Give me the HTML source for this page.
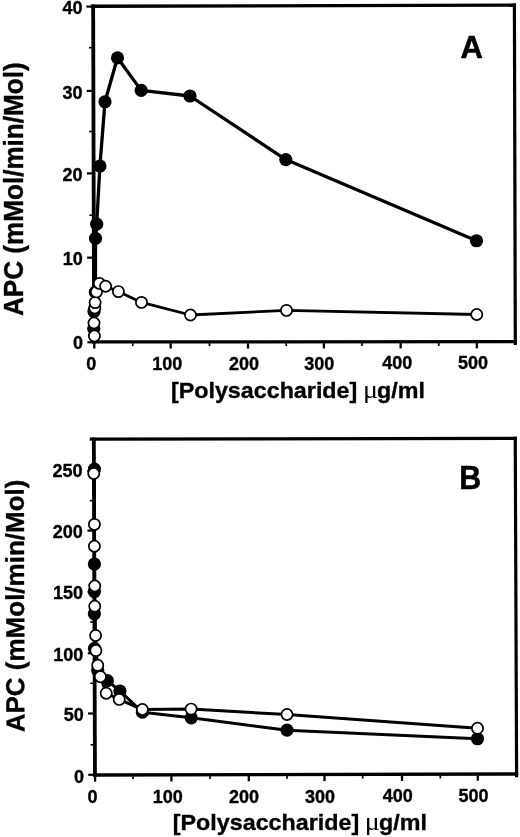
<!DOCTYPE html>
<html lang="en"><head><meta charset="utf-8"><title>APC vs polysaccharide concentration</title>
<style>html,body{margin:0;padding:0;background:#fff;}body{width:520px;height:837px;overflow:hidden;}svg{display:block;}text{font-family:"Liberation Sans", Arial, Helvetica, sans-serif;font-weight:700;fill:#000;stroke:#000;stroke-width:0.35px;}.mu{font-family:"Liberation Serif","DejaVu Serif",serif;font-weight:400;stroke:none;}</style></head><body>
<svg width="520" height="837" viewBox="0 0 520 837">
<rect x="0" y="0" width="520" height="837" fill="#fff"/>
<g fill="#000">
<polygon points="91.25,4.61 92.20,343.56 96.00,343.54 95.05,4.59"/>
<polygon points="512.80,3.55 513.71,344.95 516.91,344.95 516.00,3.55"/>
<polygon points="91.25,7.90 516.00,6.85 516.00,3.55 91.25,4.60"/>
<polygon points="92.20,343.55 516.90,343.35 516.90,340.05 92.20,340.25"/>
<rect x="86.45" y="5.50" width="5.20" height="2.20"/>
<rect x="86.69" y="89.80" width="5.20" height="2.20"/>
<rect x="86.92" y="172.30" width="5.20" height="2.20"/>
<rect x="87.16" y="256.55" width="5.20" height="2.20"/>
<rect x="87.40" y="341.20" width="5.20" height="2.20"/>
<rect x="88.97" y="46.90" width="2.80" height="1.60"/>
<rect x="89.20" y="130.70" width="2.80" height="1.60"/>
<rect x="89.44" y="214.40" width="2.80" height="1.60"/>
<rect x="89.68" y="299.20" width="2.80" height="1.60"/>
<rect x="93.15" y="343.25" width="2.30" height="5.30"/>
<rect x="169.50" y="343.21" width="2.30" height="5.30"/>
<rect x="246.85" y="343.18" width="2.30" height="5.30"/>
<rect x="322.75" y="343.14" width="2.30" height="5.30"/>
<rect x="399.50" y="343.10" width="2.30" height="5.30"/>
<rect x="475.65" y="343.07" width="2.30" height="5.30"/>
<rect x="131.90" y="343.23" width="1.70" height="2.90"/>
<rect x="208.65" y="343.20" width="1.70" height="2.90"/>
<rect x="285.40" y="343.16" width="1.70" height="2.90"/>
<rect x="361.15" y="343.12" width="1.70" height="2.90"/>
<rect x="437.90" y="343.09" width="1.70" height="2.90"/>
</g>
<polyline points="476.50,240.75 285.80,159.60 190.00,96.00 141.20,90.40 117.50,57.80 105.00,101.75 99.90,166.00 96.70,224.20 95.50,238.40 95.40,292.20 94.00,311.50 93.75,328.60" fill="none" stroke="#000" stroke-width="3.3" stroke-linejoin="round"/>
<polyline points="476.75,314.50 286.50,310.40 190.50,315.00 141.50,302.40 118.40,291.60 105.60,286.25 99.40,283.40 96.50,291.90 95.10,302.60 94.75,308.00 94.00,323.00 94.40,336.00" fill="none" stroke="#000" stroke-width="2.8" stroke-linejoin="round"/>
<circle cx="476.50" cy="240.75" r="6.6" fill="#000"/>
<circle cx="285.80" cy="159.60" r="6.6" fill="#000"/>
<circle cx="190.00" cy="96.00" r="6.6" fill="#000"/>
<circle cx="141.20" cy="90.40" r="6.6" fill="#000"/>
<circle cx="117.50" cy="57.80" r="6.6" fill="#000"/>
<circle cx="105.00" cy="101.75" r="6.6" fill="#000"/>
<circle cx="99.90" cy="166.00" r="6.6" fill="#000"/>
<circle cx="96.70" cy="224.20" r="6.6" fill="#000"/>
<circle cx="95.50" cy="238.40" r="6.6" fill="#000"/>
<circle cx="95.40" cy="292.20" r="6.6" fill="#000"/>
<circle cx="94.00" cy="311.50" r="6.6" fill="#000"/>
<circle cx="93.75" cy="328.60" r="6.6" fill="#000"/>
<circle cx="94.40" cy="336.00" r="5.6" fill="#fff" stroke="#000" stroke-width="1.7"/>
<circle cx="94.00" cy="323.00" r="5.6" fill="#fff" stroke="#000" stroke-width="1.7"/>
<circle cx="94.75" cy="308.00" r="5.6" fill="#fff" stroke="#000" stroke-width="1.7"/>
<circle cx="95.10" cy="302.60" r="5.6" fill="#fff" stroke="#000" stroke-width="1.7"/>
<circle cx="96.50" cy="291.90" r="5.6" fill="#fff" stroke="#000" stroke-width="1.7"/>
<circle cx="99.40" cy="283.40" r="5.6" fill="#fff" stroke="#000" stroke-width="1.7"/>
<circle cx="105.60" cy="286.25" r="5.6" fill="#fff" stroke="#000" stroke-width="1.7"/>
<circle cx="118.40" cy="291.60" r="5.6" fill="#fff" stroke="#000" stroke-width="1.7"/>
<circle cx="141.50" cy="302.40" r="5.6" fill="#fff" stroke="#000" stroke-width="1.7"/>
<circle cx="190.50" cy="315.00" r="5.6" fill="#fff" stroke="#000" stroke-width="1.7"/>
<circle cx="286.50" cy="310.40" r="5.6" fill="#fff" stroke="#000" stroke-width="1.7"/>
<circle cx="476.75" cy="314.50" r="5.6" fill="#fff" stroke="#000" stroke-width="1.7"/>
<text x="82.60" y="13.80" font-size="18" text-anchor="end">40</text>
<text x="82.60" y="98.60" font-size="18" text-anchor="end">30</text>
<text x="82.60" y="180.70" font-size="18" text-anchor="end">20</text>
<text x="82.85" y="264.80" font-size="18" text-anchor="end">10</text>
<text x="83.05" y="349.30" font-size="18" text-anchor="end">0</text>
<text x="91.30" y="370.20" font-size="18" text-anchor="middle">0</text>
<text x="167.35" y="369.90" font-size="18" text-anchor="middle">100</text>
<text x="243.90" y="369.90" font-size="18" text-anchor="middle">200</text>
<text x="319.30" y="369.70" font-size="18" text-anchor="middle">300</text>
<text x="397.20" y="369.20" font-size="18" text-anchor="middle">400</text>
<text x="473.00" y="369.30" font-size="18" text-anchor="middle">500</text>
<text x="471.7" y="58.1" font-size="31" text-anchor="middle" style="stroke-width:0.55px">A</text>
<text transform="translate(22.9,316.0) rotate(-90) scale(1,1.03)" font-size="26.1">APC (mMol/min/Mol)</text>
<g class="big" transform="translate(0.00,398.4) scale(1,0.96)">
<text x="170.9" y="0" font-size="23.299999999999997">[Polysaccharide]</text>
<text class="mu" transform="translate(362.9,0) scale(1.06,1)" font-size="26.5">μ</text>
<text x="425.0" y="0" font-size="23.299999999999997" text-anchor="end">g/ml</text>
</g>
<g fill="#000">
<polygon points="91.94,437.41 93.06,776.66 96.86,776.64 95.74,437.39"/>
<polygon points="513.64,436.71 515.01,777.26 518.21,777.24 516.84,436.69"/>
<polygon points="89.75,440.71 516.85,440.00 516.85,436.70 89.75,437.41"/>
<polygon points="93.05,776.65 518.20,775.65 518.20,772.35 93.05,773.35"/>
<rect x="87.25" y="469.90" width="5.20" height="2.20"/>
<rect x="87.45" y="529.50" width="5.20" height="2.20"/>
<rect x="87.65" y="590.90" width="5.20" height="2.20"/>
<rect x="87.85" y="652.20" width="5.20" height="2.20"/>
<rect x="88.05" y="712.40" width="5.20" height="2.20"/>
<rect x="88.25" y="773.70" width="5.20" height="2.20"/>
<rect x="89.75" y="499.80" width="2.80" height="1.60"/>
<rect x="89.95" y="560.70" width="2.80" height="1.60"/>
<rect x="90.15" y="621.20" width="2.80" height="1.60"/>
<rect x="90.35" y="682.50" width="2.80" height="1.60"/>
<rect x="90.55" y="744.00" width="2.80" height="1.60"/>
<rect x="93.95" y="776.35" width="2.30" height="5.30"/>
<rect x="170.25" y="776.17" width="2.30" height="5.30"/>
<rect x="247.65" y="775.99" width="2.30" height="5.30"/>
<rect x="323.35" y="775.81" width="2.30" height="5.30"/>
<rect x="400.85" y="775.62" width="2.30" height="5.30"/>
<rect x="476.65" y="775.44" width="2.30" height="5.30"/>
<rect x="132.15" y="776.26" width="1.70" height="2.90"/>
<rect x="209.15" y="776.08" width="1.70" height="2.90"/>
<rect x="286.15" y="775.89" width="1.70" height="2.90"/>
<rect x="361.85" y="775.71" width="1.70" height="2.90"/>
<rect x="439.45" y="775.53" width="1.70" height="2.90"/>
</g>
<polyline points="477.50,738.75 287.00,730.20 191.25,717.80 142.40,712.20 119.90,691.00 107.40,680.70 97.70,670.30 94.50,648.50 94.40,613.75 94.40,591.50 94.40,564.00 94.40,469.10" fill="none" stroke="#000" stroke-width="3.0" stroke-linejoin="round"/>
<polyline points="477.50,728.30 287.00,714.50 191.10,709.10 142.40,709.50 119.20,699.40 106.20,693.20 100.40,676.70 97.70,665.30 95.90,650.60 95.60,635.50 94.75,606.25 94.75,586.00 94.40,546.25 94.40,524.40 93.75,473.50" fill="none" stroke="#000" stroke-width="3.0" stroke-linejoin="round"/>
<circle cx="477.50" cy="738.75" r="6.6" fill="#000"/>
<circle cx="287.00" cy="730.20" r="6.6" fill="#000"/>
<circle cx="191.25" cy="717.80" r="6.6" fill="#000"/>
<circle cx="142.40" cy="712.20" r="6.6" fill="#000"/>
<circle cx="119.90" cy="691.00" r="6.6" fill="#000"/>
<circle cx="107.40" cy="680.70" r="6.6" fill="#000"/>
<circle cx="97.70" cy="670.30" r="6.6" fill="#000"/>
<circle cx="94.50" cy="648.50" r="6.6" fill="#000"/>
<circle cx="94.40" cy="613.75" r="6.6" fill="#000"/>
<circle cx="94.40" cy="591.50" r="6.6" fill="#000"/>
<circle cx="94.40" cy="564.00" r="6.6" fill="#000"/>
<circle cx="94.40" cy="469.10" r="6.6" fill="#000"/>
<circle cx="93.75" cy="473.50" r="5.6" fill="#fff" stroke="#000" stroke-width="1.7"/>
<circle cx="94.40" cy="524.40" r="5.6" fill="#fff" stroke="#000" stroke-width="1.7"/>
<circle cx="94.40" cy="546.25" r="5.6" fill="#fff" stroke="#000" stroke-width="1.7"/>
<circle cx="94.75" cy="586.00" r="5.6" fill="#fff" stroke="#000" stroke-width="1.7"/>
<circle cx="94.75" cy="606.25" r="5.6" fill="#fff" stroke="#000" stroke-width="1.7"/>
<circle cx="95.60" cy="635.50" r="5.6" fill="#fff" stroke="#000" stroke-width="1.7"/>
<circle cx="95.90" cy="650.60" r="5.6" fill="#fff" stroke="#000" stroke-width="1.7"/>
<circle cx="97.70" cy="665.30" r="5.6" fill="#fff" stroke="#000" stroke-width="1.7"/>
<circle cx="100.40" cy="676.70" r="5.6" fill="#fff" stroke="#000" stroke-width="1.7"/>
<circle cx="106.20" cy="693.20" r="5.6" fill="#fff" stroke="#000" stroke-width="1.7"/>
<circle cx="119.20" cy="699.40" r="5.6" fill="#fff" stroke="#000" stroke-width="1.7"/>
<circle cx="142.40" cy="709.50" r="5.6" fill="#fff" stroke="#000" stroke-width="1.7"/>
<circle cx="191.10" cy="709.10" r="5.6" fill="#fff" stroke="#000" stroke-width="1.7"/>
<circle cx="287.00" cy="714.50" r="5.6" fill="#fff" stroke="#000" stroke-width="1.7"/>
<circle cx="477.50" cy="728.30" r="5.6" fill="#fff" stroke="#000" stroke-width="1.7"/>
<text x="82.60" y="477.30" font-size="18" text-anchor="end">250</text>
<text x="82.85" y="537.50" font-size="18" text-anchor="end">200</text>
<text x="83.05" y="598.60" font-size="18" text-anchor="end">150</text>
<text x="83.40" y="660.70" font-size="18" text-anchor="end">100</text>
<text x="83.70" y="721.30" font-size="18" text-anchor="end">50</text>
<text x="84.00" y="782.60" font-size="18" text-anchor="end">0</text>
<text x="92.40" y="803.10" font-size="18" text-anchor="middle">0</text>
<text x="167.75" y="802.80" font-size="18" text-anchor="middle">100</text>
<text x="244.10" y="802.70" font-size="18" text-anchor="middle">200</text>
<text x="320.00" y="802.60" font-size="18" text-anchor="middle">300</text>
<text x="397.85" y="802.30" font-size="18" text-anchor="middle">400</text>
<text x="473.50" y="802.30" font-size="18" text-anchor="middle">500</text>
<text transform="translate(470.2,489) scale(0.95,1.01)" font-size="32" text-anchor="middle" style="stroke-width:0.55px">B</text>
<text transform="translate(24.4,732.3) rotate(-90.15) scale(1,1.0)" font-size="26.0">APC (mMol/min/Mol)</text>
<g class="big" transform="translate(1.90,830.2) scale(1,0.96)">
<text x="170.9" y="0" font-size="23.299999999999997">[Polysaccharide]</text>
<text class="mu" transform="translate(362.9,0) scale(1.06,1)" font-size="26.5">μ</text>
<text x="425.0" y="0" font-size="23.299999999999997" text-anchor="end">g/ml</text>
</g>
</svg></body></html>
